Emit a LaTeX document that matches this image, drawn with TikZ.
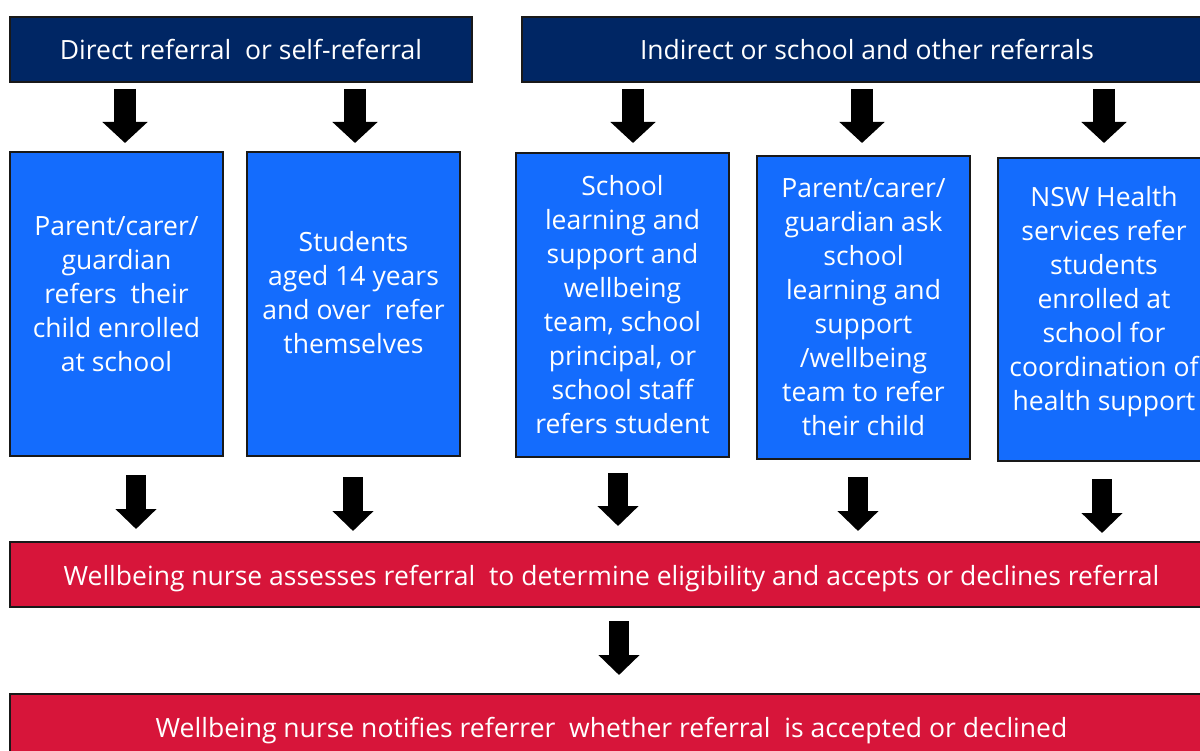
\documentclass[tikz,border=0pt]{standalone}
\usepackage{fontspec}
\setmainfont{Open Sans}
\usetikzlibrary{arrows.meta}
\definecolor{navy}{HTML}{002664}
\definecolor{nswblue}{HTML}{146CFD}
\definecolor{nswred}{HTML}{D7153A}
\begin{document}
\begin{tikzpicture}[x=1pt,y=-1pt,
  box/.style={draw=black!90, line width=2pt, rectangle, anchor=north west,
    inner sep=0pt},
  label/.style={inner sep=0pt, align=center, text=white,
    font=\fontsize{26.5}{34}\selectfont},
  header/.style={box, fill=navy},
  source/.style={box, fill=nswblue},
  outcome/.style={box, fill=nswred},
  bigarrow/.style={black, line width=22pt, -{Triangle[length=21pt,width=44pt]}},
  smallarrow/.style={black, line width=20pt, -{Triangle[length=20pt,width=40pt]}}]
\useasboundingbox (0,0) rectangle (1200,751);
\clip (0,0) rectangle (1200,751);

% headers
\node[header, minimum width=462pt, minimum height=65pt] (h1) at (9,16) {};
\node[header, minimum width=690pt, minimum height=65pt] (h2) at (521,16) {};
\node[label] (h1t) at (h1.center) {Direct referral\ \ or self-referral};
\node[label] (h2t) at (h2.center) {Indirect or school and other referrals};

% referral sources
\node[source, minimum width=213pt, minimum height=304pt] (b1) at (9,151) {};
\node[source, minimum width=213pt, minimum height=304pt] (b2) at (246,151) {};
\node[source, minimum width=213pt, minimum height=304pt] (b3) at (515,152) {};
\node[source, minimum width=213pt, minimum height=303pt] (b4) at (756,155) {};
\node[source, minimum width=212pt, minimum height=303pt] (b5) at (997,157) {};

\node[label] (b1t) at ([yshift=10pt]b1.center)
  {Parent/carer/\\guardian\\refers\ \ their\\child enrolled\\at school};
\node[label] (b2t) at ([yshift=11pt]b2.center)
  {Students\\aged 14 years\\and over\ \ refer\\themselves};
\node[label] (b3t) at (b3.center)
  {School\\learning and\\support and\\wellbeing\\team, school\\principal, or\\school staff\\refers student};
\node[label] (b4t) at (b4.center)
  {Parent/carer/\\guardian ask\\school\\learning and\\support\\/wellbeing\\team to refer\\their child};
\node[label] (b5t) at ([yshift=8pt]b5.center)
  {NSW Health\\services refer\\students\\enrolled at\\school for\\coordination of\\health support};

% outcomes
\node[outcome, minimum width=1203pt, minimum height=65pt] (r1) at (9,541) {};
\node[outcome, minimum width=1203pt, minimum height=65pt] (r2) at (9,693) {};
\node[label] (r1t) at ([yshift=-4pt]r1.center)
  {Wellbeing nurse assesses referral\ \ to determine eligibility and accepts or declines referral};
\node[label] (r2t) at ([yshift=-4pt]r2.center)
  {Wellbeing nurse notifies referrer\ \ whether referral\ \ is accepted or declined};

% arrow columns
\coordinate (t1) at (125,0);
\coordinate (t2) at (355,0);
\coordinate (t3) at (633,0);
\coordinate (t4) at (862,0);
\coordinate (t5) at (1104,0);
\coordinate (u1) at (136,0);
\coordinate (u2) at (353,0);
\coordinate (u3) at (618,0);
\coordinate (u4) at (858,0);
\coordinate (u5) at (1102,0);
\coordinate (u6) at (619,0);

% header to source arrows
\draw[bigarrow] ([yshift=-6pt]h1.south -| t1) -- ([yshift=8pt]b1.north -| t1);
\draw[bigarrow] ([yshift=-6pt]h1.south -| t2) -- ([yshift=8pt]b2.north -| t2);
\draw[bigarrow] ([yshift=-6pt]h2.south -| t3) -- ([yshift=9pt]b3.north -| t3);
\draw[bigarrow] ([yshift=-6pt]h2.south -| t4) -- ([yshift=12pt]b4.north -| t4);
\draw[bigarrow] ([yshift=-6pt]h2.south -| t5) -- ([yshift=14pt]b5.north -| t5);

% source to assessment arrows
\draw[smallarrow] ([yshift=-18pt]b1.south -| u1) -- ([yshift=12pt]r1.north -| u1);
\draw[smallarrow] ([yshift=-20pt]b2.south -| u2) -- ([yshift=10pt]r1.north -| u2);
\draw[smallarrow] ([yshift=-15pt]b3.south -| u3) -- ([yshift=15pt]r1.north -| u3);
\draw[smallarrow] ([yshift=-17pt]b4.south -| u4) -- ([yshift=10pt]r1.north -| u4);
\draw[smallarrow] ([yshift=-17pt]b5.south -| u5) -- ([yshift=8pt]r1.north -| u5);

% assessment to notification arrow
\draw[smallarrow] ([yshift=-13pt]r1.south -| u6) -- ([yshift=18pt]r2.north -| u6);
\end{tikzpicture}
\end{document}
